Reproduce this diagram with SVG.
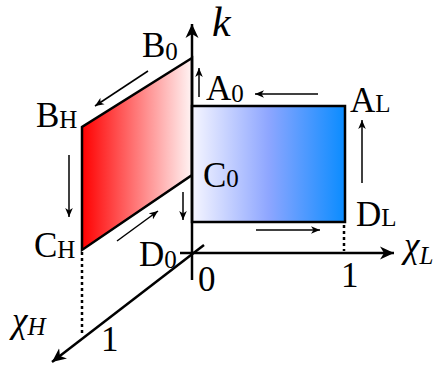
<svg xmlns="http://www.w3.org/2000/svg" width="447" height="369" viewBox="0 0 447 369">
<style>
text{font-family:"Liberation Serif","DejaVu Serif",serif;fill:#000}
.m{font-size:35px}
.s{font-size:25px}
.i{font-style:italic}
.ax{stroke:#000;stroke-width:2.5;fill:none}
.ed{stroke:#000;stroke-width:2.5}
.sa{stroke:#000;stroke-width:1.5;fill:none}
.dot{stroke:#000;stroke-width:2.5;stroke-dasharray:3 3;fill:none}
</style>
<defs>
<linearGradient id="gr" x1="82" y1="0" x2="192" y2="0" gradientUnits="userSpaceOnUse">
<stop offset="0" stop-color="#ff0000"/>
<stop offset="1" stop-color="#fff4f4"/>
</linearGradient>
<linearGradient id="gb" x1="192" y1="0" x2="345" y2="0" gradientUnits="userSpaceOnUse">
<stop offset="0" stop-color="#f6f6ff"/>
<stop offset="0.5" stop-color="#8ea6ff"/>
<stop offset="1" stop-color="#0a8cff"/>
</linearGradient>
<marker id="big" viewBox="-14 -7 15 14" markerWidth="15" markerHeight="14" refX="0" refY="0" orient="auto" markerUnits="userSpaceOnUse">
<path d="M0,0 L-14,-6.5 L-10,0 L-14,6.5 Z" fill="#000"/>
</marker>
<marker id="sm" viewBox="-9 -4 10 8" markerWidth="10" markerHeight="8" refX="0" refY="0" orient="auto" markerUnits="userSpaceOnUse">
<path d="M0,0 L-9,-3.8 L-6.5,0 L-9,3.8 Z" fill="#000"/>
</marker>
</defs>
<g id="faceH">
<path d="M192,58 L82,127 L82,250 L192,175 Z" fill="url(#gr)" class="ed"/>
</g>
<g id="faceL">
<rect x="192" y="106" width="153" height="116" fill="url(#gb)" class="ed"/>
</g>
<g id="connectors">
<line class="ax" x1="192" y1="280" x2="192" y2="24" marker-end="url(#big)"/>
<line class="ax" x1="180" y1="253" x2="394" y2="253" marker-end="url(#big)"/>
<line class="ax" x1="204" y1="245" x2="52" y2="362" marker-end="url(#big)"/>
<line class="dot" x1="82" y1="252" x2="82" y2="335"/>
<line class="dot" x1="344" y1="225" x2="344" y2="251"/>
<line class="sa" x1="199" y1="97" x2="199" y2="68" marker-end="url(#sm)"/>
<line class="sa" x1="318" y1="94" x2="255" y2="94" marker-end="url(#sm)"/>
<line class="sa" x1="362" y1="183" x2="362" y2="120" marker-end="url(#sm)"/>
<line class="sa" x1="256" y1="230" x2="320" y2="230" marker-end="url(#sm)"/>
<line class="sa" x1="183" y1="192" x2="183" y2="220" marker-end="url(#sm)"/>
<line class="sa" x1="69" y1="155" x2="69" y2="217" marker-end="url(#sm)"/>
<line class="sa" x1="117" y1="241" x2="158" y2="211" marker-end="url(#sm)"/>
<line class="sa" x1="148" y1="71" x2="95" y2="106" marker-end="url(#sm)"/>
</g>
<g id="labels">
<text class="i" x="212" y="36" font-size="42">k</text>
<text class="m" x="142" y="57">B<tspan class="s" y="60">0</tspan></text>
<text class="m" x="36" y="127">B<tspan class="s" y="128">H</tspan></text>
<text class="m" x="206" y="100">A<tspan class="s" y="102">0</tspan></text>
<text class="m" x="350" y="112">A<tspan class="s" y="112">L</tspan></text>
<text class="m" x="203" y="187">C<tspan class="s" y="187">0</tspan></text>
<text class="m" x="356" y="226">D<tspan class="s" y="226">L</tspan></text>
<text class="m" x="139" y="266">D<tspan class="s" y="268">0</tspan></text>
<text class="m" x="34" y="257">C<tspan class="s" y="258">H</tspan></text>
<text class="m i" x="12" y="332">χ<tspan class="s" y="335">H</tspan></text>
<text class="m i" x="404" y="257">χ<tspan class="s" y="264">L</tspan></text>
<text class="m" x="101" y="351">1</text>
<text class="m" x="198" y="291">0</text>
<text class="m" x="341" y="287">1</text>
</g>
</svg>
